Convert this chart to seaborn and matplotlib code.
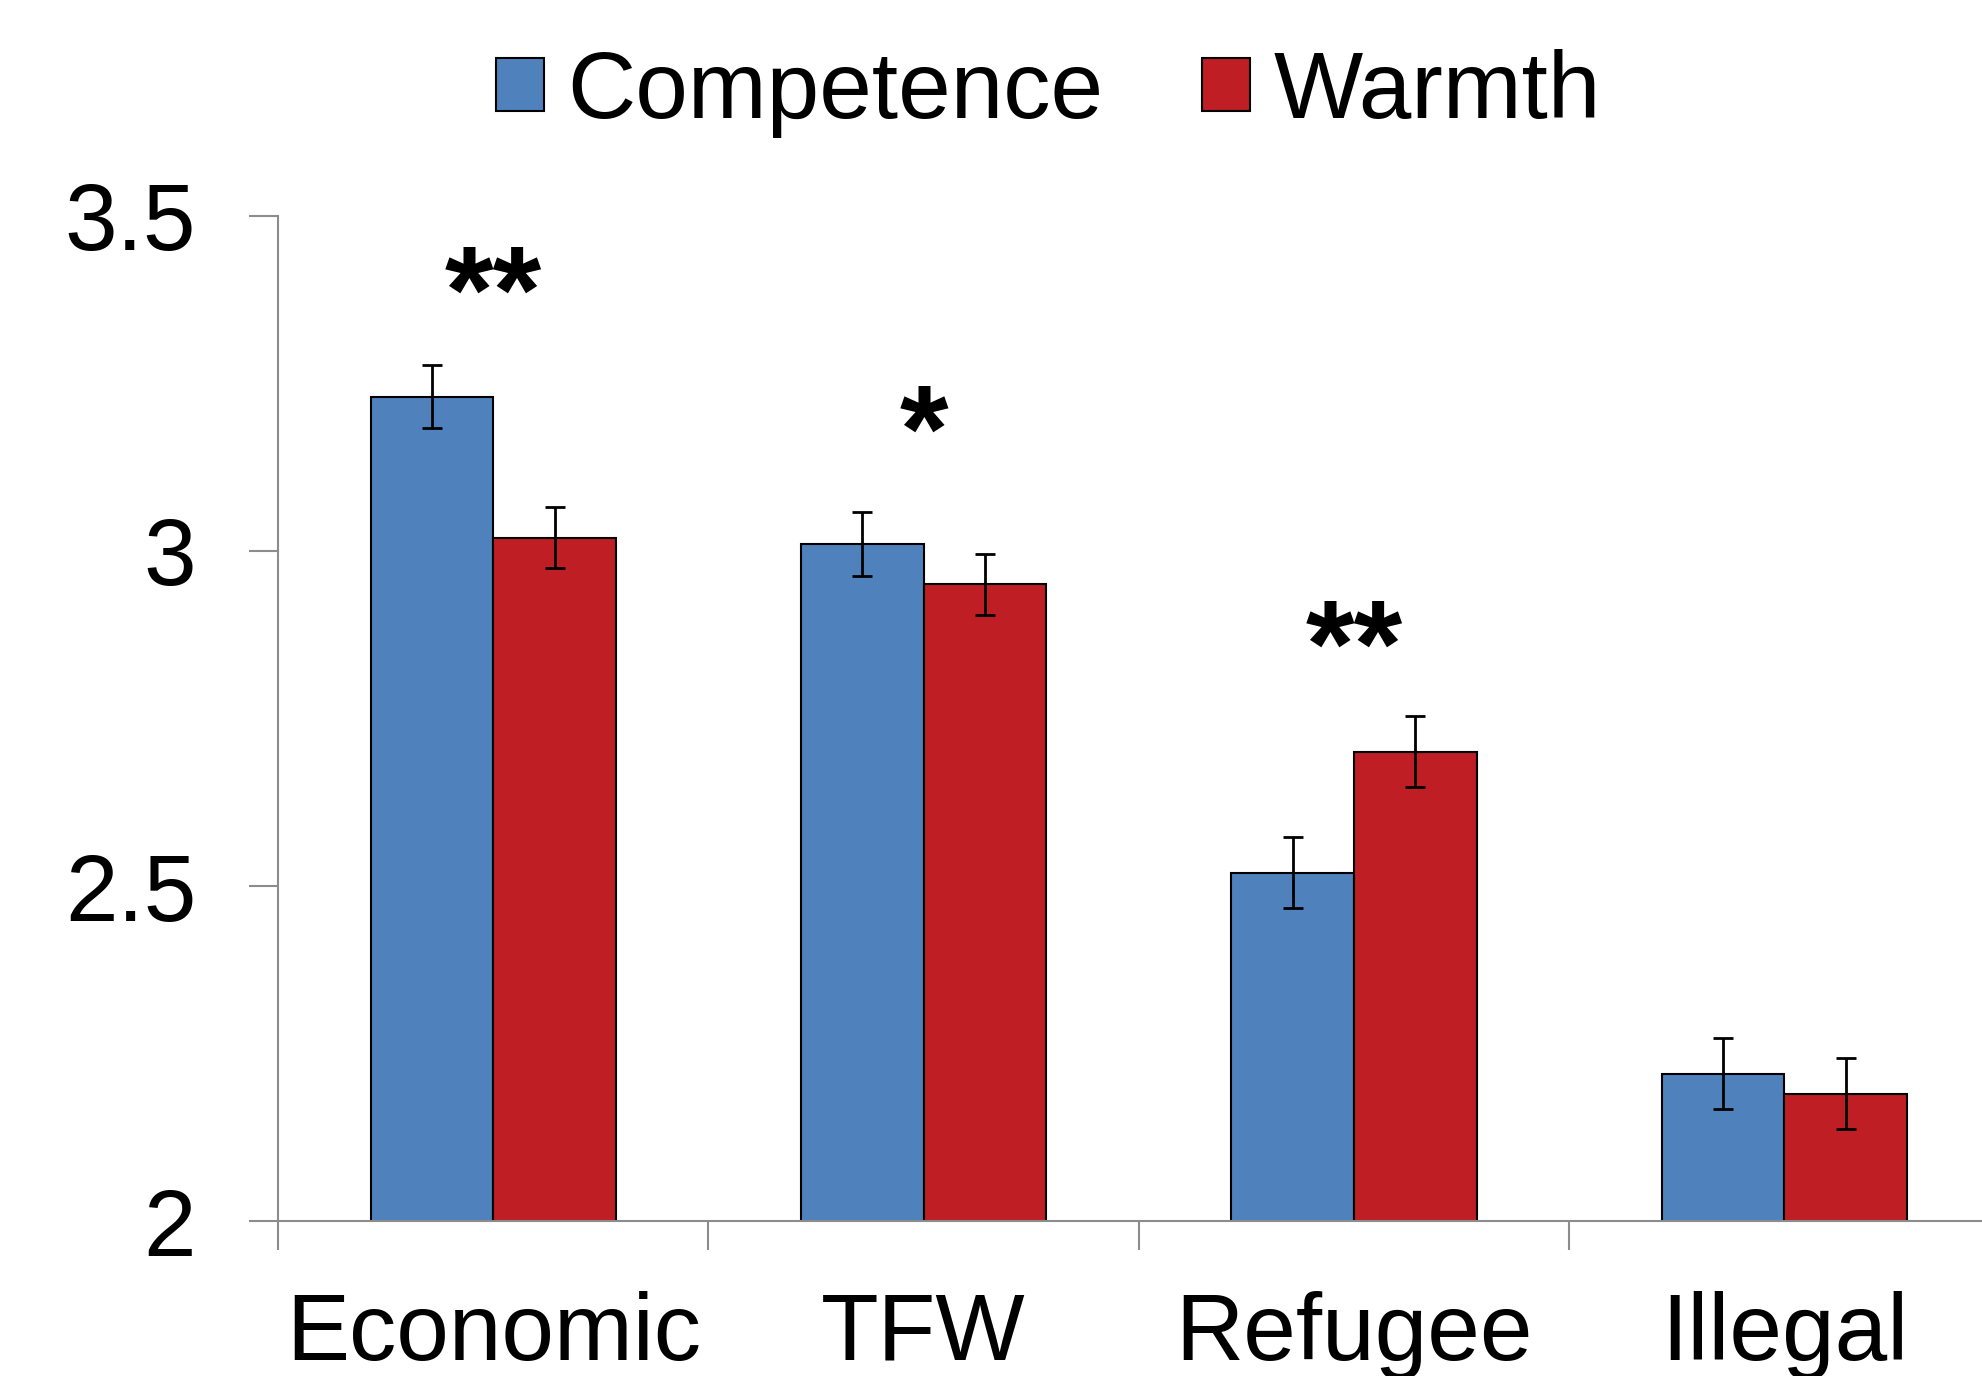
"""
Grouped bar chart — competence vs warmth ratings by immigrant category.
"""

import numpy as np
import pandas as pd
import matplotlib
matplotlib.use("Agg")
import matplotlib.pyplot as plt
import matplotlib.patches as mpatches
import seaborn as sns

# ── data ────────────────────────────────────────────────────────────
categories = ["Economic", "TFW", "Refugee", "Illegal"]
series = ["Competence", "Warmth"]
competence = [3.23, 3.01, 2.52, 2.22]
warmth = [3.02, 2.95, 2.70, 2.19]
competence_err = [0.047, 0.048, 0.053, 0.053]
warmth_err = [0.046, 0.046, 0.053, 0.053]
stars = ["**", "*", "**", ""]
star_y = [3.326, 3.118, 2.798, 0]

colors = {"Competence": "#4F81BD", "Warmth": "#BE1E24"}
AXIS_GREY = "#8C8C8C"

df = pd.DataFrame({
    "category": categories * 2,
    "series": ["Competence"] * 4 + ["Warmth"] * 4,
    "value": competence + warmth,
    "err": competence_err + warmth_err,
})

sns.set_theme(style="white")
plt.rcParams["font.family"] = ["Liberation Sans", "DejaVu Sans"]
plt.rcParams["text.color"] = "black"
plt.rcParams["xtick.labelcolor"] = "black"
plt.rcParams["ytick.labelcolor"] = "black"

fig = plt.figure(figsize=(19.82, 13.76), dpi=100)
ax = fig.add_axes([0.1403, 0.1126, 0.8597, 0.7305])

sns.barplot(data=df, x="category", y="value", hue="series", order=categories,
            hue_order=series, palette=colors, saturation=1, width=0.57, gap=0,
            errorbar=None, edgecolor="black", linewidth=1.5, legend=False, ax=ax)

# error bars at the bar centres
for bars, s in zip(ax.containers, series):
    sub = df[df["series"] == s].set_index("category").loc[categories]
    xs = [b.get_x() + b.get_width() / 2 for b in bars]
    ax.errorbar(xs, sub["value"], yerr=sub["err"], fmt="none",
                ecolor="black", elinewidth=2, capsize=7, capthick=2, zorder=5)

# significance stars
for i, (s, y) in enumerate(zip(stars, star_y)):
    if s:
        ax.text(i, y, s, ha="center", va="baseline", fontsize=90,
                fontweight="bold", color="black")

ax.set_yticks([2, 2.5, 3, 3.5])
ax.set_yticklabels(["2", "2.5", "3", "3.5"])
ax.set_xticks(range(len(categories)))
ax.set_xticklabels(categories)
ax.set_xticks(np.arange(-0.5, 4, 1), minor=True)
ax.set_ylim(2, 3.5)
ax.set_xlim(-0.5, 3.459)
ax.set_xlabel("")
ax.set_ylabel("")

ax.tick_params(axis="y", which="major", direction="out", length=21, width=1.5,
               color=AXIS_GREY, labelsize=68, pad=38, left=True)
ax.tick_params(axis="x", which="major", length=0, labelsize=68, pad=50)
ax.tick_params(axis="x", which="minor", direction="out", length=21, width=1.5,
               color=AXIS_GREY, bottom=True)

for side in ["top", "right"]:
    ax.spines[side].set_visible(False)
for side in ["left", "bottom"]:
    ax.spines[side].set_color(AXIS_GREY)
    ax.spines[side].set_linewidth(1.5)

handles = [mpatches.Patch(facecolor=colors[s], edgecolor="black", linewidth=1.5, label=s)
           for s in series]
fig.legend(handles=handles, loc="center", bbox_to_anchor=(0.529, 0.932), ncol=2,
           frameon=False, fontsize=68, handlelength=0.5, handleheight=0.5,
           handletextpad=0.25, columnspacing=1.05, labelcolor="black")

fig.savefig("out.png", dpi=100)
plt.close(fig)
